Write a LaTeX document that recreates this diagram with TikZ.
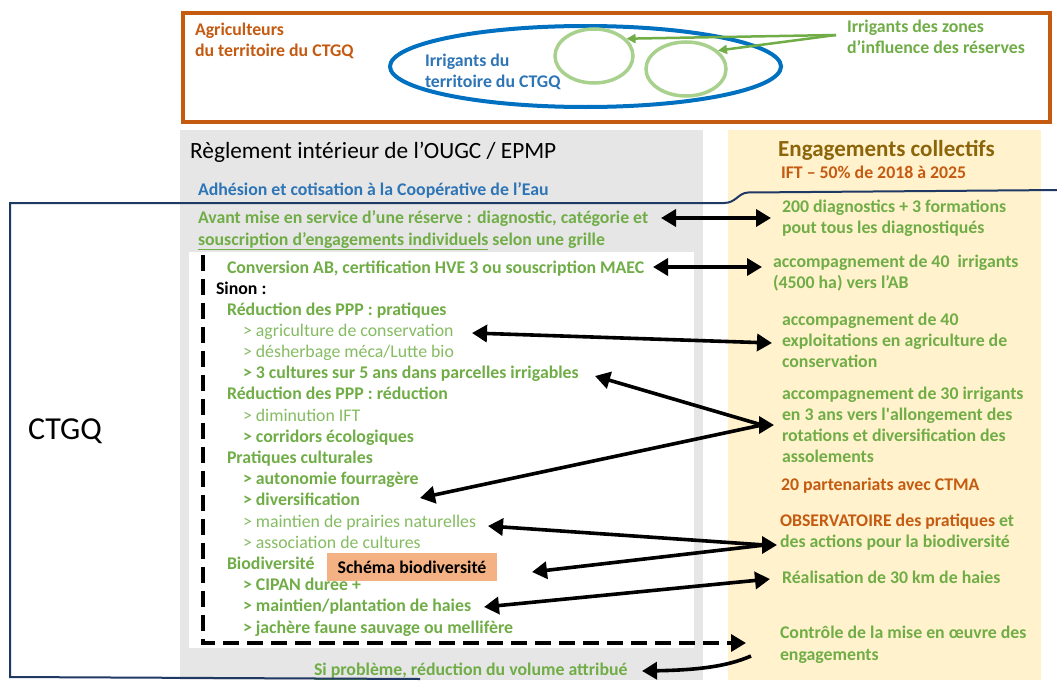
\documentclass[tikz,border=0pt]{standalone}
\usepackage{fontspec}
\setmainfont{Carlito}
\usetikzlibrary{arrows.meta,shapes.geometric}
\definecolor{cOr}{RGB}{197,90,17}
\definecolor{cBlue}{RGB}{0,112,192}
\definecolor{cBlueT}{RGB}{46,117,182}
\definecolor{cGr}{RGB}{112,173,71}
\definecolor{cGrL}{RGB}{133,188,98}
\definecolor{cCirc}{RGB}{169,209,142}
\definecolor{cGray}{RGB}{231,230,230}
\definecolor{cYel}{RGB}{255,242,204}
\definecolor{cBrown}{RGB}{140,100,10}
\definecolor{cSal}{RGB}{244,177,131}
\definecolor{cNavy}{RGB}{31,56,100}
\tikzset{
  tb/.style={anchor=base west, inner sep=0pt, outer sep=0pt, text=cGr, font=\fontsize{17.8}{21}\selectfont\bfseries},
  tr/.style={tb, text=cGrL, font=\fontsize{17.8}{21}\selectfont},
  hd/.style={line width=3.6pt, draw=black},
  ar/.style={hd, -{Triangle[length=15pt,width=17pt]}},
  ra/.style={hd, {Triangle[length=15pt,width=17pt]}-},
  dbl/.style={hd, {Triangle[length=15pt,width=17pt]}-{Triangle[length=15pt,width=17pt]}},
  garr/.style={cGr, line width=2.5pt, -{Triangle[length=9pt,width=9pt]}},
  circ/.style={ellipse, draw=cCirc, line width=3.5pt, inner sep=0pt},
}
\begin{document}
\begin{tikzpicture}[x=1pt,y=-1pt]
\useasboundingbox (0,0) rectangle (1057,680);
\fill[white] (0,0) rectangle (1057,680);
% ---------- top box ----------
\draw[cOr, line width=4pt] (183,13) rectangle (1050,122);
\node[ellipse, draw=cBlue, line width=4pt, inner sep=0pt, minimum width=391pt, minimum height=81pt] (ell) at (585.5,66.5) {};
\node[circ, minimum width=78pt, minimum height=54pt] (c1) at (594,56) {};
\node[circ, minimum width=80pt, minimum height=54pt] (c2) at (686,69) {};
\node[tb, text=cOr] (agr1) at (195,35) {Agriculteurs};
\node[tb, text=cOr] (agr2) at (195,56) {du territoire du CTGQ};
\node[tb, text=cBlueT] (irr1) at (425,66) {Irrigants du};
\node[tb, text=cBlueT] (irr2) at (425,87) {territoire du CTGQ};
\node[tb] (irz1) at (847,32) {Irrigants des zones};
\node[tb] (irz2) at (847,53) {d’influence des réserves};
\coordinate (gh) at (836,35);
\draw[garr] (gh) -- (c1.28);
\draw[garr] (gh) -- (c2.30);
% ---------- panels ----------
\fill[cGray] (180,130) rectangle (703,680);
\fill[cYel] (728,130) rectangle (1041,680);
\fill[white] (189,252) rectangle (694,648);
% ---------- left column ----------
\node[anchor=base west, inner sep=0pt, font=\fontsize{23.3}{27}\selectfont] (regl) at (190,158) {Règlement intérieur de l’OUGC / EPMP};
\node[tb, text=cBlueT] (adh) at (198,195) {Adhésion et cotisation à la Coopérative de l’Eau};
\node[tb] (av1) at (198,223) {Avant mise en service d’une réserve : diagnostic, catégorie et};
\node[tb] (av2) at (198,245) {\underline{souscription d’engagements individuels} selon une grille};
\node[tb] (conv) at (227,273) {Conversion AB, certification HVE 3 ou souscription MAEC};
\node[tb, text=black] (sinon) at (216,294) {Sinon :};
\node[tb] (l0) at (227,315.0) {Réduction des PPP : pratiques};
\node[tr] (l1) at (243,336.2) {> agriculture de conservation};
\node[tr] (l2) at (243,357.4) {> désherbage méca/Lutte bio};
\node[tb] (l3) at (243,378.6) {> 3 cultures sur 5 ans dans parcelles irrigables};
\node[tb] (l4) at (227,399.8) {Réduction des PPP : réduction};
\node[tr] (l5) at (243,421.0) {> diminution IFT};
\node[tb] (l6) at (243,442.2) {> corridors écologiques};
\node[tb] (l7) at (227,463.4) {Pratiques culturales};
\node[tb] (l8) at (243,484.6) {> autonomie fourragère};
\node[tb] (l9) at (243,505.8) {> diversification};
\node[tr] (l10) at (243,527.0) {> maintien de prairies naturelles};
\node[tr] (l11) at (243,548.2) {> association de cultures};
\node[tb] (l12) at (227,569.4) {Biodiversité};
\node[tb] (l13) at (243,590.6) {> CIPAN durée +};
\node[tb] (l14) at (243,611.8) {> maintien/plantation de haies};
\node[tb] (l15) at (243,633.0) {> jachère faune sauvage ou mellifère};
\node[fill=cSal, inner sep=0pt, minimum width=170pt, minimum height=28pt, font=\fontsize{17.8}{21}\selectfont\bfseries] (schema) at (412,567) {Schéma biodiversité};
\node[tb] (sip) at (314,675) {\underline{Si problème}, réduction du volume attribué};
% ---------- right column ----------
\node[anchor=base west, inner sep=0pt, text=cBrown, font=\fontsize{23}{27}\selectfont\bfseries] (engc) at (778,156) {Engagements collectifs};
\node[tb, text=cOr] (ift) at (781,178) {IFT – 50\% de 2018 à 2025};
\node[tb] (d1) at (782,212) {200 diagnostics + 3 formations};
\node[tb] (d2) at (782,233) {pout tous les diagnostiqués};
\node[tb] (i1) at (773,267) {accompagnement de 40~ irrigants};
\node[tb] (i2) at (773,288) {(4500 ha) vers l’AB};
\node[tb] (e1) at (782,325) {accompagnement de 40};
\node[tb] (e2) at (782,346) {exploitations en agriculture de};
\node[tb] (e3) at (782,367) {conservation};
\node[tb] (r1) at (782,399) {accompagnement de 30 irrigants};
\node[tb] (r2) at (782,420) {en 3 ans vers l\textquotesingle allongement des};
\node[tb] (r3) at (782,441) {rotations et diversification des};
\node[tb] (r4) at (782,462) {assolements};
\node[tb, text=cOr] (p1) at (781,490) {20 partenariats avec CTMA};
\node[tb] (o1) at (780,526) {\textcolor{cOr}{OBSERVATOIRE des pratiques} et};
\node[tb] (o2) at (780,547) {des actions pour la biodiversité};
\node[tb] (h1) at (782,583) {Réalisation de 30 km de haies};
\node[tb] (k1) at (780,638) {Contrôle de la mise en œuvre des};
\node[tb] (k2) at (780,660) {engagements};
\node[anchor=base west, inner sep=0pt, font=\fontsize{32}{38}\selectfont] (ctgq) at (28,439) {CTGQ};
% ---------- CTGQ frame ----------
\draw[cNavy, line width=2pt] (1060,190) -- (748,192.5) .. controls (738,193) and (736,203) .. (724,203) -- (10,203) -- (10,677) -- (420,679);
% ---------- arrows ----------
\coordinate (aL1) at (661,218); \coordinate (aR1) at (771,218);
\coordinate (aL2) at (653,267); \coordinate (aR2) at (762,267);
\coordinate (aL3) at (472,333); \coordinate (aR3) at (772,343);
\coordinate (aL4) at (595,376); \coordinate (aL5) at (420,498); \coordinate (hubA) at (774,425);
\coordinate (aL6) at (488,526); \coordinate (aL7) at (532,572); \coordinate (hubB) at (777,545);
\coordinate (aL8) at (484,607); \coordinate (aR8) at (770,579);
\coordinate (dT) at (203,255); \coordinate (dC) at (203,643); \coordinate (dE) at (746,643);
\coordinate (cS) at (751,656); \coordinate (cE) at (642,671);
\draw[dbl] (aL1) -- (aR1);
\draw[dbl] (aL2) -- (aR2);
\draw[dbl] (aL3) -- (aR3);
\draw[ra] (aL4) -- ([xshift=-12pt]hubA);
\draw[ra] (aL5) -- ([xshift=-12pt]hubA);
\draw[ar] ([xshift=-16pt]hubA) -- (hubA);
\draw[ra] (aL6) -- ([xshift=-12pt]hubB);
\draw[ra] (aL7) -- ([xshift=-12pt]hubB);
\draw[ar] ([xshift=-16pt]hubB) -- (hubB);
\draw[dbl] (aL8) -- (aR8);
\draw[hd, dash pattern=on 16pt off 8pt, -{Triangle[length=15pt,width=17pt]}] (dT) -- (dC) -- (dE);
\draw[ar] (cS) .. controls (728,666) and (700,670) .. (cE);
\end{tikzpicture}
\end{document}
